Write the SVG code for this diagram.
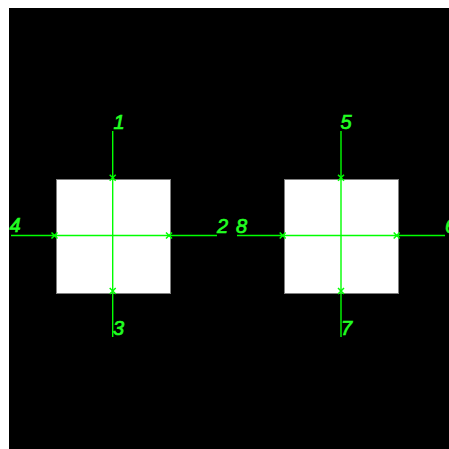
<svg xmlns="http://www.w3.org/2000/svg" width="449" height="449" viewBox="0 0 449 449">
<defs>
<style>
.bg{fill:#000}
.box{fill:#fff;stroke:#808080;stroke-width:1}
.ln{stroke:#00ff00;stroke-width:1.4;fill:none}
.mk{stroke:#00ff00;stroke-width:1.5;fill:none}
.lbl{fill:#22ff22;stroke:#22ff22;stroke-width:0.7;font-family:"Liberation Sans",Arial,sans-serif;font-style:italic;font-size:20px}
</style>
<path id="x" class="mk" d="M-3,-3 L3,3 M-3,3 L3,-3"/>
</defs>
<rect x="0" y="0" width="449" height="449" fill="#fff"/>
<rect class="bg" x="9" y="8" width="440" height="441"/>
<g id="node-left">
<rect class="box" x="56.5" y="179.5" width="114" height="114"/>
</g>
<g id="node-right">
<rect class="box" x="284.5" y="179.5" width="114" height="114"/>
</g>
<g id="connectors">
<line class="ln" x1="112.7" y1="131" x2="112.7" y2="337"/>
<line class="ln" x1="11" y1="235.5" x2="217" y2="235.5"/>
<line class="ln" x1="341" y1="131" x2="341" y2="337"/>
<line class="ln" x1="237" y1="235.5" x2="445" y2="235.5"/>
<use href="#x" x="112.7" y="177.7"/>
<use href="#x" x="54.5" y="235.5"/>
<use href="#x" x="169" y="235.5"/>
<use href="#x" x="112.7" y="291"/>
<use href="#x" x="341" y="177.7"/>
<use href="#x" x="282.7" y="235.5"/>
<use href="#x" x="396.7" y="235.5"/>
<use href="#x" x="341" y="291"/>
</g>
<g id="labels">
<text class="lbl" x="113.5" y="129">1</text>
<text class="lbl" x="217" y="233">2</text>
<text class="lbl" x="113" y="334.5">3</text>
<text class="lbl" x="9.5" y="232">4</text>
<text class="lbl" x="340.5" y="129">5</text>
<text class="lbl" x="445" y="233">6</text>
<text class="lbl" x="341" y="334.5">7</text>
<text class="lbl" x="236" y="233">8</text>
</g>
</svg>
